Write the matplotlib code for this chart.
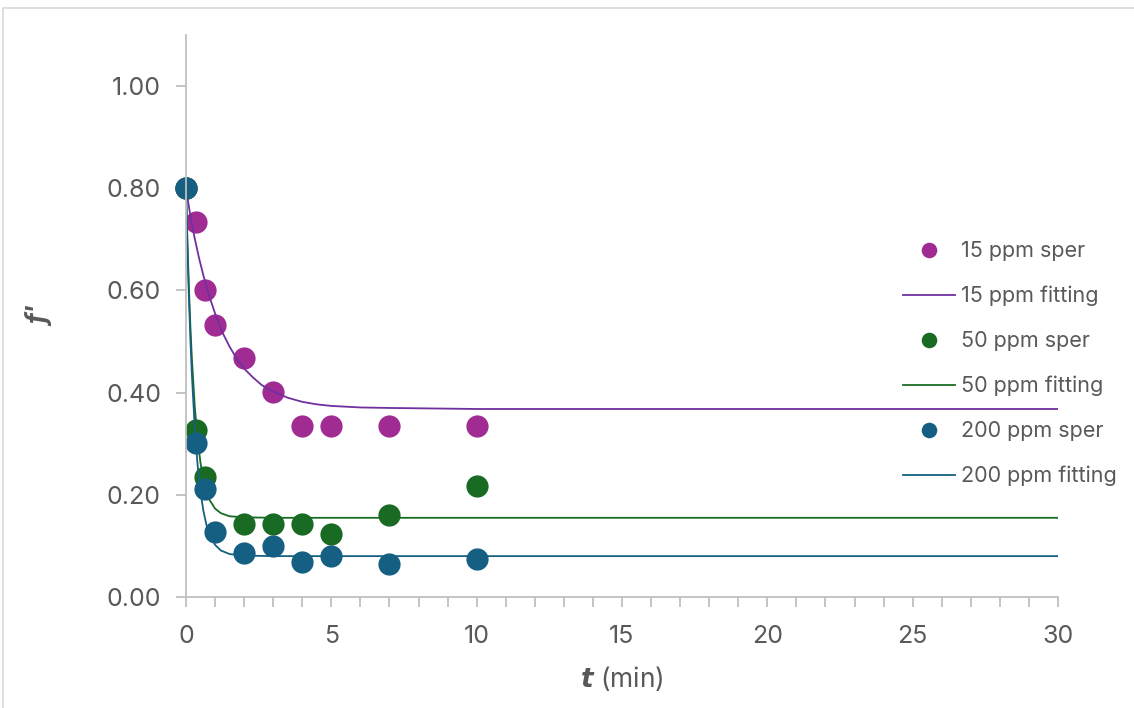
import numpy as np
import matplotlib
matplotlib.use("Agg")
import matplotlib.pyplot as plt
from matplotlib.patches import Rectangle

plt.rcParams['font.family'] = ['Inter', 'DejaVu Sans']

# measured points (t in min, f')
t_exp = [0, 0.33, 0.67, 1, 2, 3, 4, 5, 7, 10]
f15_exp = [0.800, 0.734, 0.601, 0.533, 0.468, 0.401, 0.335, 0.335, 0.335, 0.335]
t_exp50 = [0, 0.33, 0.67, 2, 3, 4, 5, 7, 10]
f50_exp = [0.800, 0.327, 0.235, 0.143, 0.143, 0.142, 0.123, 0.160, 0.217]
f200_exp = [0.800, 0.301, 0.211, 0.127, 0.086, 0.100, 0.068, 0.080, 0.064, 0.074]

# fitted curves
t15_fit = [0, 0.1, 0.2, 0.3, 0.45, 0.6, 0.8, 1.0, 1.25, 1.5, 1.75, 2.0, 2.3, 2.6,
           3.0, 3.5, 4.0, 4.5, 5.0, 6.0, 7.0, 8.5, 10, 15, 20, 30]
f15_fit = [0.800, 0.764, 0.730, 0.702, 0.663, 0.629, 0.589, 0.555, 0.518, 0.490,
           0.466, 0.447, 0.430, 0.415, 0.402, 0.390, 0.382, 0.377, 0.374, 0.371,
           0.370, 0.369, 0.368, 0.368, 0.368, 0.368]
t50_fit = [0, 0.05, 0.1, 0.15, 0.2, 0.3, 0.4, 0.5, 0.6, 0.7, 0.8, 1.0, 1.2, 1.5,
           2.0, 3.0, 30]
f50_fit = [0.800, 0.694, 0.605, 0.531, 0.469, 0.374, 0.308, 0.262, 0.229, 0.207,
           0.191, 0.173, 0.164, 0.158, 0.156, 0.155, 0.155]
t200_fit = [0, 0.05, 0.1, 0.15, 0.2, 0.3, 0.4, 0.5, 0.6, 0.7, 0.8, 1.0, 1.2, 1.5,
            2.0, 3.0, 30]
f200_fit = [0.800, 0.684, 0.587, 0.506, 0.438, 0.332, 0.258, 0.205, 0.168, 0.142,
            0.124, 0.102, 0.091, 0.084, 0.081, 0.080, 0.080]

c15 = '#A02B93'
c15_line = '#7030A0'
c50 = '#196B24'
c200 = '#156082'
txt = '#595959'
grey = '#BFBFBF'

fig = plt.figure(figsize=(11.34, 7.08), dpi=100)
fig.patches.append(Rectangle((3 / 1134, -0.1), 1.2, 1 - 8 / 708 + 0.1,
                             transform=fig.transFigure, fill=False,
                             edgecolor='#D9D9D9', lw=1.2))
ax = fig.add_axes([186 / 1134, 1 - 597 / 708, 872 / 1134, 562 / 708])

ms = 16
ax.plot(t_exp, f15_exp, 'o', color=c15, ms=ms, mec='none', label='15 ppm sper', clip_on=False)
ax.plot(t15_fit, f15_fit, '-', color=c15_line, lw=1.3, label='15 ppm fitting')
ax.plot(t_exp50, f50_exp, 'o', color=c50, ms=ms, mec='none', label='50 ppm sper', clip_on=False)
ax.plot(t50_fit, f50_fit, '-', color=c50, lw=1.3, label='50 ppm fitting')
ax.plot(t_exp, f200_exp, 'o', color=c200, ms=ms, mec='none', label='200 ppm sper', clip_on=False)
ax.plot(t200_fit, f200_fit, '-', color=c200, lw=1.3, label='200 ppm fitting')

ax.set_xlim(0, 30)
ax.set_ylim(0, 1.1)
ax.set_xticks(np.arange(0, 31, 5))
ax.set_xticks(np.arange(0, 31, 1), minor=True)
ax.set_yticks(np.arange(0, 1.01, 0.2))
ax.yaxis.set_major_formatter(plt.FormatStrFormatter('%.2f'))

for s in ['top', 'right']:
    ax.spines[s].set_visible(False)
for s in ['left', 'bottom']:
    ax.spines[s].set_color(grey)
    ax.spines[s].set_linewidth(1.3)
ax.tick_params(which='both', color=grey, width=1.3, length=7, direction='out')
ax.tick_params(which='major', labelsize=18, labelcolor=txt)
ax.tick_params(axis='x', which='major', pad=13)
ax.tick_params(axis='y', which='major', pad=11)

ax.set_xlabel(r'$\boldsymbol{t}$ (min)', fontsize=19, color=txt, labelpad=12)
ax.text(-0.167, 0.5, "f'", transform=ax.transAxes, rotation=90, fontsize=19,
        color=txt, fontweight='bold', style='italic', ha='center', va='center')

leg = ax.legend(loc='center left', bbox_to_anchor=(0.8, 0.415), frameon=False,
                fontsize=15.5, labelcolor=txt, markerscale=0.7, handlelength=2.4,
                handletextpad=0.3, labelspacing=1.15)

fig.savefig('out.png', dpi=100)
